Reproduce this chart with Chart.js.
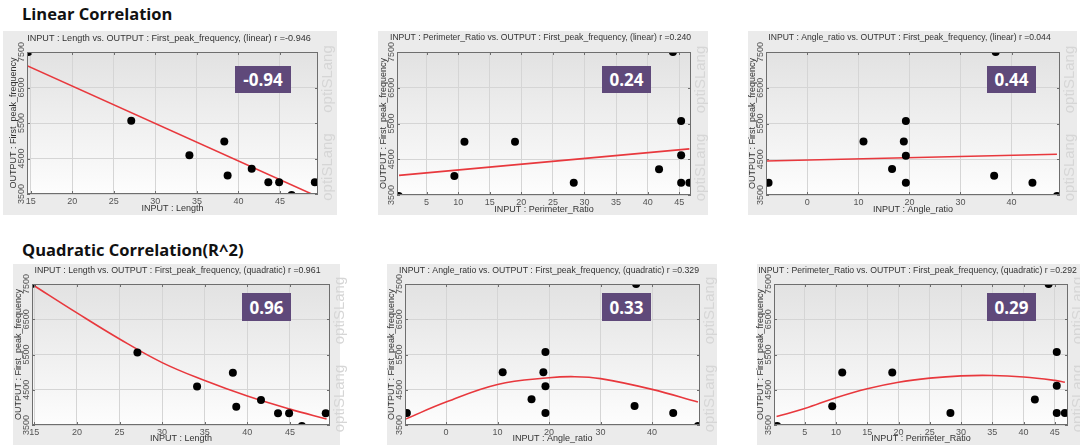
<!DOCTYPE html>
<html><head><meta charset="utf-8">
<script src="https://cdn.jsdelivr.net/npm/chart.js@4.4.0/dist/chart.umd.min.js"></script>
<style>
html,body{margin:0;padding:0;background:#fff;width:1080px;height:445px;overflow:hidden;position:relative;font-family:"Open Sans",sans-serif}
.frame{position:absolute;background:#ebebeb}
.head{position:absolute;left:22px;font-weight:700;font-size:16.5px;line-height:20px;color:#111;white-space:nowrap}
canvas{position:absolute}
.badge{position:absolute;background:#5f497a;color:#fff;font-weight:700;font-size:17px;display:flex;align-items:center;justify-content:center;font-family:"Open Sans",sans-serif}
</style></head><body>
<div class="head" style="top:4px">Linear Correlation</div>
<div class="head" style="top:240px">Quadratic Correlation(R^2)</div>
<script>
// ---- data ----
const yTicks = [3500, 4500, 5500, 6500, 7500];
const lengthTicks = [15, 20, 25, 30, 35, 40, 45];
const perimTicks = [5, 10, 15, 20, 25, 30, 35, 40, 45];
const angleTicks = [0, 10, 20, 30, 40];

const lengthX = [14.7, 27.1, 34.1, 38.3, 38.7, 41.6, 43.6, 44.9, 46.4, 49.2];
const lengthY = [7500, 5560, 4590, 4980, 4020, 4210, 3830, 3830, 3470, 3830];
const perimX = [0.6, 9.4, 11.0, 19.0, 28.3, 41.8, 44.0, 45.3, 45.3, 45.3, 46.6];
const perimY = [3470, 4030, 4990, 4990, 3840, 4220, 7500, 5570, 4610, 3840, 3840];
const angleX = [-7.6, 11.0, 16.6, 18.9, 19.3, 19.3, 19.3, 36.6, 36.9, 44.1, 48.9];
const angleY = [3840, 5000, 4230, 5000, 5570, 4600, 3840, 4040, 7500, 3840, 3470];

// fitted curves
const linLengthFitX = [14.55, 49.3];
const linLengthFitY = [7115, 3450];
const linPerimFitX = [0.64, 46.6];
const linPerimFitY = [4050, 4790];
const linAngleFitX = [-8.1, 48.9];
const linAngleFitY = [4450, 4640];
const quadLengthFitX = [14.8, 20, 25, 30, 35, 40, 45, 49.3];
const quadLengthFitY = [7480, 6680, 5940, 5270, 4760, 4320, 3950, 3670];
const quadAngleFitX = [-8, 0, 10, 20, 25, 30, 40, 48.9];
const quadAngleFitY = [3660, 4150, 4650, 4840, 4870, 4815, 4510, 4150];
const quadPerimFitX = [0.5, 5, 10, 15, 20, 25, 30, 35, 40, 45, 46.6];
const quadPerimFitY = [3740, 3965, 4275, 4530, 4715, 4830, 4895, 4905, 4860, 4765, 4715];

const rValues = ['-0.94', '0.24', '0.44', '0.96', '0.33', '0.29'];
const titles = [
  'INPUT : Length vs. OUTPUT : First_peak_frequency, (linear) r =-0.946',
  'INPUT : Perimeter_Ratio vs. OUTPUT : First_peak_frequency, (linear) r =0.240',
  'INPUT : Angle_ratio vs. OUTPUT : First_peak_frequency, (linear) r =0.044',
  'INPUT : Length vs. OUTPUT : First_peak_frequency, (quadratic) r =0.961',
  'INPUT : Angle_ratio vs. OUTPUT : First_peak_frequency, (quadratic) r =0.329',
  'INPUT : Perimeter_Ratio vs. OUTPUT : First_peak_frequency, (quadratic) r =0.292'
];
const xTitles = ['INPUT : Length', 'INPUT : Perimeter_Ratio', 'INPUT : Angle_ratio',
                 'INPUT : Length', 'INPUT : Angle_ratio', 'INPUT : Perimeter_Ratio'];
const yTitle = 'OUTPUT : First_peak_frequency';

Chart.defaults.font.family = '"Liberation Sans", Arial, sans-serif';

// ---- layout ----
const panels = [
  {frame:[3,31,337,215], area:[27,52,318,194], titleSize:9.1, titleGap:15, xr:[14.55,49.58], ticks:lengthTicks, xs:lengthX, ys:lengthY, fx:linLengthFitX, fy:linLengthFitY, curve:false, badge:[235,66,56,27]},
  {frame:[378,31,708,215], area:[397,52,691,195], titleSize:8.6, titleGap:14.5, xr:[0.32,46.86], ticks:perimTicks, xs:perimX, ys:perimY, fx:linPerimFitX, fy:linPerimFitY, curve:false, badge:[602,66,49,27]},
  {frame:[748,31,1077,215], area:[766,52,1060,195], titleSize:8.6, titleGap:14.5, xr:[-8.1,49.5], ticks:angleTicks, xs:angleX, ys:angleY, fx:linAngleFitX, fy:linAngleFitY, curve:false, badge:[987,66,49,27]},
  {frame:[13,264,340,445], area:[32,284,330,425], titleSize:8.8, titleGap:13.5, xr:[14.73,49.7], ticks:lengthTicks, xs:lengthX, ys:lengthY, fx:quadLengthFitX, fy:quadLengthFitY, curve:true, badge:[242,293,49,28]},
  {frame:[387,264,717,445], area:[405,284,700,425], titleSize:8.7, titleGap:13.5, xr:[-7.96,49.3], ticks:angleTicks, xs:angleX, ys:angleY, fx:quadAngleFitX, fy:quadAngleFitY, curve:true, badge:[602,293,49,28]},
  {frame:[757,264,1080,445], area:[774,284,1068,425], titleSize:8.7, titleGap:13.5, xr:[0.09,47.1], ticks:perimTicks, xs:perimX, ys:perimY, fx:quadPerimFitX, fy:quadPerimFitY, curve:true, badge:[987,293,49,28]}
];

const deco = {
  id: 'deco',
  beforeDraw(chart) {
    const {ctx, chartArea: a} = chart;
    ctx.save();
    const g = ctx.createLinearGradient(0, a.top, 0, a.bottom);
    g.addColorStop(0, '#e2e2e2'); g.addColorStop(1, '#fdfdfd');
    ctx.fillStyle = g;
    ctx.fillRect(a.left, a.top, a.right - a.left, a.bottom - a.top);
    ctx.fillStyle = '#d6d6d6';
    ctx.font = '15px "Liberation Sans"';
    ctx.textAlign = 'center'; ctx.textBaseline = 'middle';
    const cy = (a.top + a.bottom) / 2;
    for (const dy of [-44, 44]) {
      ctx.save(); ctx.translate(a.right + 10, cy + dy); ctx.rotate(-Math.PI / 2);
      ctx.fillText('optiSLang', 0, 0); ctx.restore();
    }
    ctx.restore();
  },
  afterDraw(chart) {
    const {ctx, chartArea: a, scales: {x, y}} = chart;
    ctx.save();
    ctx.strokeStyle = '#6e6e6e'; ctx.lineWidth = 1;
    ctx.strokeRect(Math.round(a.left) + 0.5, Math.round(a.top) + 0.5, Math.round(a.right - a.left) - 1, Math.round(a.bottom - a.top) - 1);
    ctx.beginPath();
    x.ticks.forEach(t => {
      const px = Math.round(x.getPixelForValue(t.value)) + 0.5;
      ctx.moveTo(px, a.top); ctx.lineTo(px, a.top + 3);
      ctx.moveTo(px, a.bottom); ctx.lineTo(px, a.bottom - 3);
    });
    y.ticks.forEach(t => {
      const py = Math.round(y.getPixelForValue(t.value)) + 0.5;
      ctx.moveTo(a.left, py); ctx.lineTo(a.left + 3, py);
      ctx.moveTo(a.right, py); ctx.lineTo(a.right - 3, py);
    });
    ctx.stroke();
    ctx.fillStyle = '#555'; ctx.font = '9px "Liberation Sans"';
    ctx.textAlign = 'center'; ctx.textBaseline = 'middle';
    y.ticks.forEach(t => {
      const py = y.getPixelForValue(t.value);
      ctx.save(); ctx.translate(a.left - 5.5, py); ctx.rotate(-Math.PI / 2);
      ctx.fillText(String(t.value), 0, 0); ctx.restore();
    });
    ctx.restore();
  }
};

panels.forEach((p, i) => {
  const fr = document.createElement('div');
  fr.className = 'frame';
  Object.assign(fr.style, {left: p.frame[0] + 'px', top: p.frame[1] + 'px',
    width: (p.frame[2] - p.frame[0]) + 'px', height: (p.frame[3] - p.frame[1]) + 'px'});
  document.body.appendChild(fr);

  const L = p.area[0] - 24, R = p.area[2] + 17, T = p.frame[1], B = p.frame[3];
  const cv = document.createElement('canvas');
  cv.width = R - L; cv.height = B - T;
  Object.assign(cv.style, {left: L + 'px', top: T + 'px', width: (R - L) + 'px', height: (B - T) + 'px'});
  document.body.appendChild(cv);

  const topGap = p.area[1] - T;
  const botGap = B - p.area[3];
  const tlh = p.titleSize * 1.2;

  new Chart(cv, {
    type: 'scatter',
    data: {datasets: [
      {data: p.xs.map((x, k) => ({x, y: p.ys[k]})), pointRadius: 4, pointHoverRadius: 4,
       backgroundColor: '#000', borderWidth: 0, clip: 0, order: 0},
      {data: p.fx.map((x, k) => ({x, y: p.fy[k]})), showLine: true, pointRadius: 0,
       borderColor: '#e8383d', borderWidth: 1.6, tension: p.curve ? 0.4 : 0, fill: false, clip: 0, order: 1}
    ]},
    options: {
      responsive: false, animation: false, events: [],
      layout: {padding: {left: 0, right: 0, top: 0, bottom: 0}},
      plugins: {
        legend: {display: false}, tooltip: {enabled: false},
        title: {display: true, text: titles[i], color: '#333', font: {size: p.titleSize, weight: 'normal'},
                padding: {top: 7 - tlh / 2, bottom: topGap - tlh - (7 - tlh / 2)}}
      },
      scales: {
        x: {type: 'linear', min: p.xr[0], max: p.xr[1],
            afterBuildTicks: s => { s.ticks = p.ticks.map(v => ({value: v})); },
            afterFit: s => { s.height = botGap; },
            ticks: {color: '#555', font: {size: 9}, padding: 2},
            grid: {color: '#d5d5d5', drawTicks: false}, border: {display: false},
            title: {display: true, text: xTitles[i], color: '#333', font: {size: 9},
                    padding: {top: 0, bottom: Math.max(0, botGap - p.titleGap - 5.4)}}},
        y: {type: 'linear', min: 3500, max: 7500,
            afterBuildTicks: s => { s.ticks = yTicks.map(v => ({value: v})); },
            afterFit: s => { s.width = 24; },
            ticks: {display: false},
            grid: {color: '#d5d5d5', drawTicks: false}, border: {display: false},
            title: {display: true, text: yTitle, color: '#333', font: {size: 9}, padding: {top: 5, bottom: 0}}},
        yRight: {type: 'linear', position: 'right', display: true,
            afterFit: s => { s.width = 17; },
            ticks: {display: false}, grid: {display: false, drawTicks: false}, border: {display: false}}
      }
    },
    plugins: [deco]
  });

  const b = document.createElement('div');
  b.className = 'badge';
  b.textContent = rValues[i];
  Object.assign(b.style, {left: p.badge[0] + 'px', top: p.badge[1] + 'px', width: p.badge[2] + 'px', height: p.badge[3] + 'px'});
  document.body.appendChild(b);
});
</script>
</body></html>
